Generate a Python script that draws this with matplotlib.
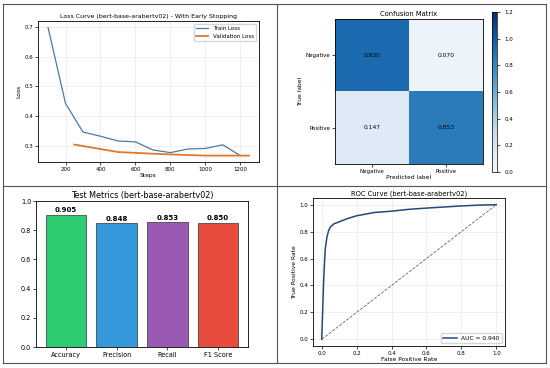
import numpy as np
import matplotlib
matplotlib.use("Agg")
import matplotlib.pyplot as plt
from matplotlib.lines import Line2D

# loss curve
train_steps = [100, 200, 300, 400, 500, 600, 700, 800, 900, 1000, 1100, 1200]
train_loss = [0.698, 0.443, 0.347, 0.333, 0.317, 0.314, 0.287, 0.278, 0.290, 0.292, 0.304, 0.268]
val_steps = [250, 500, 750, 1000, 1250]
val_loss = [0.305, 0.280, 0.273, 0.268, 0.268]

# confusion matrix (normalised)
cm_labels = ["Negative", "Positive"]
cm = np.array([[0.930, 0.070],
               [0.147, 0.853]])

# test metrics
metric_names = ["Accuracy", "Precision", "Recall", "F1 Score"]
metric_values = [0.905, 0.848, 0.853, 0.850]
metric_colors = ["#2ecc71", "#3498db", "#9b59b6", "#e74c3c"]

# roc curve
fpr = [0.0, 0.005, 0.01, 0.015, 0.02, 0.03, 0.04, 0.05, 0.07, 0.10, 0.15, 0.20, 0.30, 0.40, 0.50, 0.60, 0.70, 0.80, 0.90, 1.0]
tpr = [0.0, 0.20, 0.40, 0.55, 0.67, 0.76, 0.81, 0.835, 0.858, 0.873, 0.898, 0.918, 0.942, 0.952, 0.966, 0.975, 0.983, 0.991, 0.997, 1.0]
auc = 0.940

W, H = 550, 368
fig = plt.figure(figsize=(W / 100, H / 100), dpi=100)
fig.patch.set_facecolor("white")

def box(l, t, r, b):
    # pixel coords -> figure fraction
    return [l / W, 1 - b / H, (r - l) / W, (b - t) / H]

tick_fs = 4
lab_fs = 4.3

# ---- loss curve
ax1 = fig.add_axes(box(38, 21, 259, 162))
ax1.plot(train_steps, train_loss, color="#4a7aa8", lw=0.9, label="Train Loss")
ax1.plot(val_steps, val_loss, color="#e0782a", lw=1.3, label="Validation Loss")
ax1.set_title("Loss Curve (bert-base-arabertv02) - With Early Stopping", fontsize=4.5, pad=2.5)
ax1.set_xlabel("Steps", fontsize=lab_fs, labelpad=1)
ax1.set_ylabel("Loss", fontsize=lab_fs, labelpad=2)
ax1.set_xticks([200, 400, 600, 800, 1000, 1200])
ax1.set_yticks([0.3, 0.4, 0.5, 0.6, 0.7])
ax1.grid(True, alpha=0.3, lw=0.4)
ax1.legend(fontsize=4, loc="upper right", frameon=True, handlelength=2.2, borderpad=0.4)

# ---- confusion matrix
ax2 = fig.add_axes(box(335, 19, 483, 164))
im = ax2.imshow(cm, cmap="Blues", vmin=0, vmax=1.2, aspect="auto")
for i in range(2):
    for j in range(2):
        ax2.text(j, i, f"{cm[i, j]:.3f}", ha="center", va="center", fontsize=4.3, color="black")
ax2.set_xticks([0, 1])
ax2.set_xticklabels(cm_labels)
ax2.set_yticks([0, 1])
ax2.set_yticklabels(cm_labels)
ax2.set_title("Confusion Matrix", fontsize=4.9, pad=2)
ax2.set_xlabel("Predicted label", fontsize=lab_fs, labelpad=1)
ax2.set_ylabel("True label", fontsize=lab_fs, labelpad=2)
cax = fig.add_axes(box(492, 12, 497, 172))
cb = fig.colorbar(im, cax=cax)
cb.set_ticks([0.0, 0.2, 0.4, 0.6, 0.8, 1.0, 1.2])
cb.ax.tick_params(labelsize=tick_fs, length=2, width=0.5)
cb.outline.set_linewidth(0.5)

# ---- test metrics
ax3 = fig.add_axes(box(36, 201, 248, 347))
bars = ax3.bar(metric_names, metric_values, color=metric_colors, edgecolor="#333333", linewidth=0.5, width=0.8)
for b_, v in zip(bars, metric_values):
    ax3.text(b_.get_x() + b_.get_width() / 2, v + 0.01, f"{v:.3f}", ha="center", va="bottom",
             fontsize=5, fontweight="bold")
ax3.set_ylim(0, 1.0)
ax3.set_title("Test Metrics (bert-base-arabertv02)", fontsize=5.8, pad=2)
ax3.tick_params(labelsize=4.7, length=2, width=0.5, pad=1.5)

# ---- roc curve
ax4 = fig.add_axes(box(313, 198, 505, 346))
ax4.plot(fpr, tpr, color="#23497a", lw=1.1, label=f"AUC = {auc:.3f}")
ax4.plot([0, 1], [0, 1], color="#666666", lw=0.6, ls="--")
ax4.set_title("ROC Curve (bert-base-arabertv02)", fontsize=4.9, pad=2)
ax4.set_xlabel("False Positive Rate", fontsize=lab_fs, labelpad=1)
ax4.set_ylabel("True Positive Rate", fontsize=lab_fs, labelpad=2)
ax4.set_xticks([0, 0.2, 0.4, 0.6, 0.8, 1.0])
ax4.set_yticks([0, 0.2, 0.4, 0.6, 0.8, 1.0])
ax4.grid(True, alpha=0.3, lw=0.4)
ax4.legend(fontsize=4.3, loc="lower right", handlelength=2.2, borderpad=0.4)

for ax in (ax1, ax2, ax4):
    ax.tick_params(labelsize=tick_fs, length=2, width=0.5, pad=1.5)
for ax in (ax1, ax2, ax3, ax4):
    for s in ax.spines.values():
        s.set_linewidth(0.6)

# panel frames
def hline(y, x0, x1):
    fig.add_artist(Line2D([x0 / W, x1 / W], [1 - y / H, 1 - y / H], color="#555555", lw=0.8))

def vline(x, y0, y1):
    fig.add_artist(Line2D([x / W, x / W], [1 - y0 / H, 1 - y1 / H], color="#555555", lw=0.8))

hline(4, 3, 546)
hline(363, 3, 546)
hline(186, 3, 546)
vline(3, 4, 363)
vline(546, 4, 363)
vline(277, 4, 363)

fig.savefig("out.png", dpi=100)
